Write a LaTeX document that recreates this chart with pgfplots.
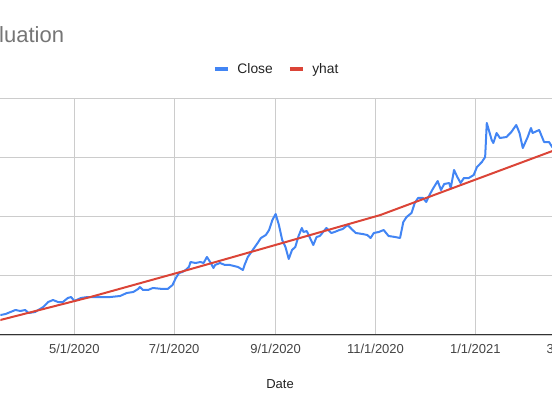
\documentclass[border=0pt]{standalone}
\usepackage{pgfplots}
\pgfplotsset{compat=1.18}
\usepackage{pgfplotstable}
\usepackage{fontspec}
\setmainfont{Liberation Sans}
\definecolor{closeblue}{HTML}{4285F4}
\definecolor{yhatred}{HTML}{DB4437}
\definecolor{gridgray}{HTML}{CCCCCC}
\definecolor{axisgray}{HTML}{333333}
\definecolor{titlegray}{HTML}{757575}
\definecolor{labelgray}{HTML}{444444}
\definecolor{textdark}{HTML}{222222}

% day = days since 5/1/2020
\pgfplotstableread{
day close
-46 84.4
-45 84.4
-42 88.6
-39 97.0
-36 105.5
-33 101.3
-30 105.5
-28 92.8
-24 97.0
-19 118.1
-16 139.2
-13 147.7
-10 139.2
-7 139.2
-4 156.1
-2 160.3
0 143.5
4 156.1
8 160.3
16 160.3
22 160.3
28 164.6
32 177.2
36 181.4
39 194.1
40 202.5
42 189.9
45 189.9
48 198.3
54 194.1
57 194.1
60 211.0
62 240.5
64 261.6
66 265.8
68 274.3
70 286.9
71 308.0
74 303.8
77 308.0
79 303.8
81 329.1
83 308.0
85 282.7
86 295.4
89 303.8
92 295.4
95 295.4
100 286.9
103 274.3
104 295.4
106 329.1
109 358.6
112 388.2
114 409.3
117 421.9
119 443.0
121 485.2
123 510.5
125 464.1
127 400.8
129 371.3
131 320.7
133 358.6
135 371.3
137 417.7
139 451.5
140 434.6
142 438.8
144 409.3
146 379.7
148 413.5
150 417.7
154 451.5
157 430.4
159 434.6
162 443.0
164 447.3
167 464.1
170 443.0
172 430.4
176 426.2
179 421.9
181 409.3
183 430.4
186 434.6
189 443.0
192 417.7
196 413.5
199 409.3
201 476.8
203 497.9
206 514.8
208 557.0
210 578.1
213 578.1
215 561.2
217 590.7
219 616.0
222 649.8
224 611.8
226 637.1
229 641.4
230 620.3
232 696.2
234 666.7
236 641.4
238 662.4
241 662.4
244 675.1
246 708.9
249 729.9
251 751.0
252 894.5
255 822.8
256 810.1
258 852.3
260 831.2
264 835.4
267 856.5
270 886.1
272 852.3
274 789.0
277 835.4
279 873.4
280 852.3
284 865.0
287 814.3
290 814.3
292 793.2
293 789.0
}\closedata

\pgfplotstableread{
day yhat
-47 60.1
-45.2 63.3
9.8 160.3
64.8 265.8
122.8 379.7
187.0 506.3
239.5 641.3
292.1 776.3
300 796.6
}\yhatdata

\begin{document}
\begin{tikzpicture}
\useasboundingbox (0bp,0bp) rectangle (552bp,414bp);
\clip (0bp,0bp) rectangle (552bp,414bp);
\begin{axis}[
  at={(0.35bp,79bp)}, anchor=south west,
  scale only axis, width=586.27bp, height=237bp,
  xmin=-45.2, xmax=313, ymin=0, ymax=1000,
  axis x line*=bottom, axis y line*=left,
  x axis line style={draw=axisgray, line width=1bp, -},
  y axis line style={draw=none},
  xtick={0,61,123,184,245,304},
  xticklabels={5/1/2020,7/1/2020,9/1/2020,11/1/2020,1/1/2021,3/1/2021},
  ytick={0,250,500,750,1000}, yticklabels={},
  major tick length=0pt, tick style={draw=none},
  grid=major, major grid style={draw=gridgray, line width=0.9bp},
  xticklabel style={font=\fontsize{13bp}{15bp}\selectfont, text=labelgray, anchor=center, text height=9.3bp, text depth=0pt, inner sep=0pt, yshift=-14bp},
  xlabel={Date},
  xlabel style={font=\fontsize{13bp}{15bp}\selectfont, text=textdark, at={(axis description cs:0.4770,-0.2068)}, anchor=center, text height=9.3bp, text depth=0pt, inner sep=0pt},
  legend columns=2,
  legend style={draw=none, fill=none, inner sep=0pt, outer sep=0pt,
    at={(axis description cs:0.3627,1.1224)}, anchor=west,
    font=\fontsize{13.8bp}{16bp}\selectfont, text=textdark,
    nodes={inner sep=0pt, text height=9.9bp, text depth=0pt, anchor=west},
    /tikz/every odd column/.append style={column sep=7.5bp},
    /tikz/every even column/.append style={column sep=15bp}},
  legend image code/.code={\draw[line width=4bp] (0bp,0bp) -- (13bp,0bp);},
]
\addplot[closeblue, line width=2bp, line join=round] table[x=day, y=close] {\closedata};
\addlegendentry{Close}
\addplot[yhatred, line width=2bp, line join=round] table[x=day, y=yhat] {\yhatdata};
\addlegendentry{yhat}
\end{axis}
\node[anchor=base west, inner sep=0pt, font=\fontsize{22bp}{26bp}\selectfont, text=titlegray] at (-1bp,371bp) {luation};
\end{tikzpicture}
\end{document}
